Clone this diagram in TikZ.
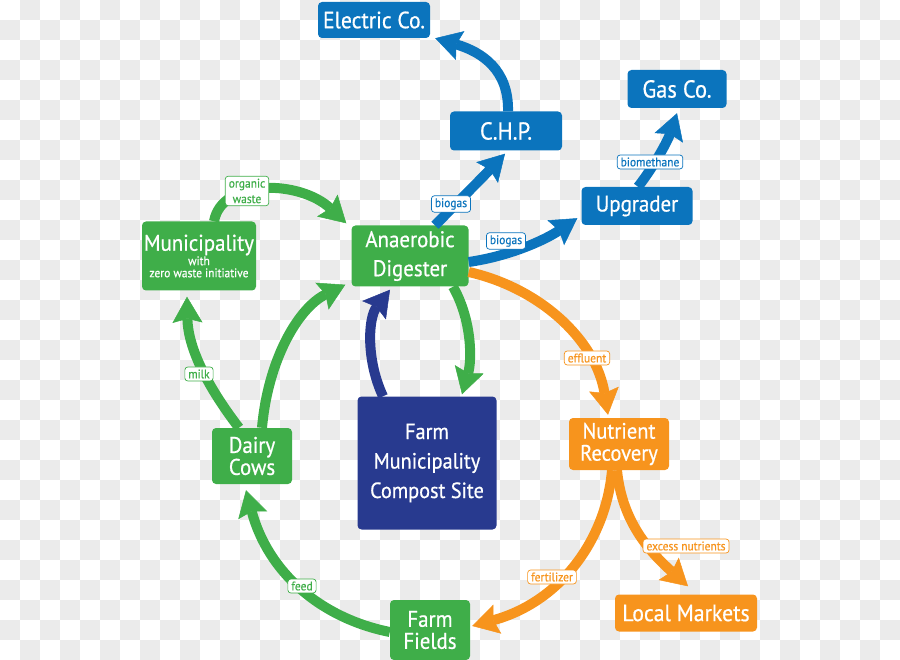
\documentclass[tikz,border=0pt]{standalone}
\usepackage{fontspec}
\setmainfont[FakeStretch=0.92, FakeBold=0.6]{PT Sans}
\usetikzlibrary{arrows.meta,calc}
\definecolor{cgreen}{HTML}{3FAE49}
\definecolor{cblue}{HTML}{0B74BD}
\definecolor{cnavy}{HTML}{283A8F}
\definecolor{corange}{HTML}{F7941D}
\definecolor{ccheck}{HTML}{EBEBEB}
\tikzset{
  box/.style={rounded corners=4pt, inner sep=0pt, align=center, text=white},
  gbox/.style={box, fill=cgreen},
  bbox/.style={box, fill=cblue},
  obox/.style={box, fill=corange},
  nbox/.style={box, fill=cnavy},
  big/.style={font=\fontsize{22.7}{29}\selectfont},
  huge/.style={font=\fontsize{24.5}{29}\selectfont},
  two/.style={font=\fontsize{22.7}{22}\selectfont},
  tag/.style={fill=white, draw=#1, line width=0.7pt, text=#1, rounded corners=3pt,
     inner xsep=3.5pt, inner ysep=2.5pt, align=center, font=\fontsize{12.5}{15.5}\selectfont},
  flow/.style={line width=10pt, draw=#1,
     -{Stealth[length=26pt,width=30pt,inset=4pt,line width=0.5pt]}},
}
\begin{document}
\begin{tikzpicture}[x=1pt,y=-1pt]
\useasboundingbox (0,0) rectangle (900,660);
% checkerboard background
\foreach \j in {0,...,32}{
  \foreach \i in {0,...,44}{
    \pgfmathtruncatemacro{\pp}{mod(\i+\j,2)}
    \ifnum\pp=1 \fill[ccheck] (\i*20,\j*20) rectangle ++(20,20);\fi
  }
}
% boxes
\node[bbox, font=\fontsize{23.5}{29}\selectfont, minimum width=112pt, minimum height=36pt] (elec) at (374,20) {Electric Co.};
\node[bbox, huge, minimum width=99pt, minimum height=38pt] (gas) at (677,89) {Gas Co.};
\node[bbox, huge, minimum width=112pt, minimum height=39pt] (chp) at (506,131) {C.H.P.};
\node[bbox, big, minimum width=111pt, minimum height=38pt] (upg) at (637,206) {Upgrader};
\node[gbox, minimum width=114pt, minimum height=69pt] (mun) at (199,256)
  {\fontsize{22.7}{19}\selectfont Municipality\\\fontsize{12.5}{19}\selectfont with\\\fontsize{12.5}{17}\selectfont zero waste initiative};
\node[gbox, big, minimum width=117pt, minimum height=61pt] (ad) at (410,256) {Anaerobic\\Digester};
\node[gbox, two, minimum width=80pt, minimum height=56pt] (cows) at (252,456) {Dairy\\Cows};
\node[nbox, font=\fontsize{22}{29.5}\selectfont, minimum width=139pt, minimum height=133pt] (comp) at (427,463) {Farm\\Municipality\\Compost Site};
\node[obox, font=\fontsize{22.3}{22}\selectfont, minimum width=100pt, minimum height=52pt] (nr) at (619,444) {Nutrient\\Recovery};
\node[obox, font=\fontsize{23.6}{29}\selectfont, minimum width=142pt, minimum height=37pt] (lm) at (686,613) {Local Markets};
\node[gbox, two, minimum width=80pt, minimum height=60pt] (ff) at (430,630) {Farm\\Fields};
% green connectors
\draw[flow=cgreen] ($(mun.north)+(15,0)$) .. controls (222,178) and (300,180) .. ($(ad.north west)+(-5,-2)$);
\draw[flow=cgreen] ($(ad.south)+(43,0)$) .. controls (472,320) and (472,360) .. ($(comp.north)+(35,-2)$);
\draw[flow=cgreen] ($(ff.west)+(0,2)$) .. controls (320,618) and (268,572) .. ($(cows.south)+(-6,6)$);
\draw[flow=cgreen] ($(cows.north)+(-13,0)$) .. controls (210,390) and (188,350) .. ($(mun.south)+(-12,6)$);
\draw[flow=cgreen] ($(cows.north)+(10,0)$) .. controls (268,360) and (298,308) .. ($(ad.south west)+(-6,-2)$);
% navy connector
\draw[flow=cnavy] ($(comp.north)+(-44,0)$) .. controls (366,360) and (368,318) .. ($(ad.south)+(-20,3)$);
% blue connectors
\draw[flow=cblue] ($(ad.north)+(25,0)$) .. controls (455,205) and (480,180) .. ($(chp.south)+(-1,3)$);
\draw[flow=cblue] ($(chp.north)+(2,0)$) .. controls (509,70) and (482,52) .. ($(elec.south east)+(5,0)$);
\draw[flow=cblue] ($(ad.east)+(0,6)$) .. controls (510,256) and (545,240) .. ($(upg.south west)+(-4,-7)$);
\draw[flow=cblue] ($(upg.north)+(1,0)$) .. controls (655,165) and (668,140) .. ($(gas.south)+(0,5)$);
% orange connectors
\draw[flow=corange] ($(ad.east)+(0,16)$) .. controls (540,288) and (596,340) .. ($(nr.north)+(-11,-3)$);
\draw[flow=corange] ($(nr.south)+(-7,0)$) .. controls (606,540) and (560,602) .. ($(ff.east)+(2,-4)$);
\draw[flow=corange] ($(nr.south)+(-2,0)$) .. controls (622,522) and (650,552) .. ($(lm.north)+(2,-8)$);
% labels
\node[tag=cgreen] (lorg) at (247,191) {organic\\waste};
\node[tag=cgreen] (lmilk) at (199,374) {milk};
\node[tag=cgreen] (lfeed) at (302,586) {feed};
\node[tag=cblue] (lbg1) at (451,204) {biogas};
\node[tag=cblue] (lbg2) at (506,241) {biogas};
\node[tag=cblue] (lbm) at (650,162) {biomethane};
\node[tag=corange] (leff) at (587,358) {effluent};
\node[tag=corange] (lexc) at (686,546) {excess nutrients};
\node[tag=corange] (lfert) at (552,577) {fertilizer};
\end{tikzpicture}
\end{document}
